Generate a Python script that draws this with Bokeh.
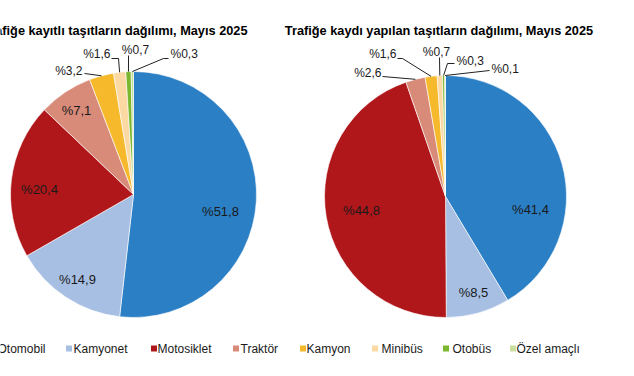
import math
from bokeh.plotting import figure
from bokeh.models import ColumnDataSource, Range1d
from bokeh.core.properties import value
from bokeh.embed import file_html
from bokeh.resources import INLINE

# ---------------- data ----------------
categories = ["Otomobil", "Kamyonet", "Motosiklet", "Traktör", "Kamyon", "Minibüs", "Otobüs", "Özel amaçlı"]
registered = [51.8, 14.9, 20.4, 7.1, 3.2, 1.6, 0.7, 0.3]
new_registrations = [41.4, 8.5, 44.8, 2.6, 1.6, 0.7, 0.3, 0.1]
title_left = "Trafiğe kayıtlı taşıtların dağılımı, Mayıs 2025"
title_right = "Trafiğe kaydı yapılan taşıtların dağılımı, Mayıs 2025"
colors = ["#2b7fc5", "#a6bfe3", "#b0171a", "#d98b7a", "#f6b92c", "#fcd9a2", "#7db72f", "#c8de9e"]

FONT = value("Liberation Sans")
H = 368  # data y = H - picture y


def Y(py):
    return H - py


def fmt(v):
    return "%" + ("%.1f" % v).replace(".", ",")


p = figure(width=618, height=360, output_backend="svg", toolbar_location=None,
           x_range=Range1d(0, 618), y_range=Range1d(8, 368),
           min_border=0, outline_line_color=None, background_fill_color="white",
           x_axis_location=None, y_axis_location=None)
p.grid.visible = False


def pie(values, cx, cy, r, inner_pos, outer_defs):
    total = sum(values)
    starts, ends, mids = [], [], []
    cum = 0.0
    for v in values:
        a0 = cum / total
        cum += v
        a1 = cum / total
        starts.append(math.pi / 2 - 2 * math.pi * a0)
        ends.append(math.pi / 2 - 2 * math.pi * a1)
        mids.append(2 * math.pi * (a0 + a1) / 2)
    src = ColumnDataSource(dict(start=starts, end=ends, color=colors, cat=categories, val=values))
    p.wedge(x=cx, y=Y(cy), radius=r, start_angle="start", end_angle="end", direction="clock",
            fill_color="color", line_color="white", line_width=0.6, source=src)

    # inner labels
    ix, iy, it = [], [], []
    for i, (lx, ly) in inner_pos.items():
        ix.append(lx); iy.append(Y(ly)); it.append(fmt(values[i]))
    p.text(x=ix, y=iy, text=it, text_font=FONT, text_font_size="13px", text_color="#1a1a1a",
           text_align="center", text_baseline="middle")

    # outer labels with leader lines
    xs, ys = [], []
    for i, (lx, ly, align, path) in outer_defs.items():
        th = mids[i]
        ex = cx + r * math.sin(th)
        ey = cy - r * math.cos(th)
        pts = path + [(ex, ey)]
        xs.append([q[0] for q in pts]); ys.append([Y(q[1]) for q in pts])
        p.text(x=[lx], y=[Y(ly)], text=[fmt(values[i])], text_font=FONT, text_font_size="12px",
               text_color="#1a1a1a", text_align=align, text_baseline="middle")
    p.multi_line(xs=xs, ys=ys, line_color="#222222", line_width=1)


# left pie
pie(registered, 133, 194, 123,
    {0: (220, 211), 1: (77, 279), 2: (39, 189), 3: (76, 110)},
    {4: (82, 70, "right", [(84, 73)]),
     5: (110, 53, "right", [(111, 58), (118, 58)]),
     6: (135, 49, "center", [(128, 55)]),
     7: (170, 53, "left", [(168, 58), (163, 58)])})

# right pie
pie(new_registrations, 445, 196, 121,
    {0: (530, 209), 1: (473, 292), 2: (361, 210)},
    {3: (381, 72, "right", [(382, 76)]),
     4: (396, 53, "right", [(397, 58), (402, 58)]),
     5: (436, 51, "center", [(439, 57)]),
     6: (456, 60, "left", [(454, 63), (447, 63)]),
     7: (491, 68, "left", [(489, 70)])})

# titles
p.text(x=[247], y=[Y(30)], text=[title_left], text_font=FONT, text_font_size="12.75px",
       text_font_style="bold", text_color="black", text_align="right", text_baseline="alphabetic")
p.text(x=[438.5], y=[Y(30)], text=[title_right], text_font=FONT, text_font_size="12.75px",
       text_font_style="bold", text_color="black", text_align="center", text_baseline="alphabetic")

# legend
marker_x = [-8, 68.5, 153.5, 235.5, 302.5, 374.5, 445.5, 512.5]
text_x = [-3, 73, 157, 240, 306, 381, 452, 516]
p.rect(x=marker_x, y=[Y(348)] * 8, width=6, height=6, fill_color=colors, line_color=None)
p.text(x=text_x, y=[Y(348)] * 8, text=categories, text_font=FONT, text_font_size="12px",
       text_color="#1a1a1a", text_align="left", text_baseline="middle")

open("out.html", "w").write(file_html(p, INLINE))
